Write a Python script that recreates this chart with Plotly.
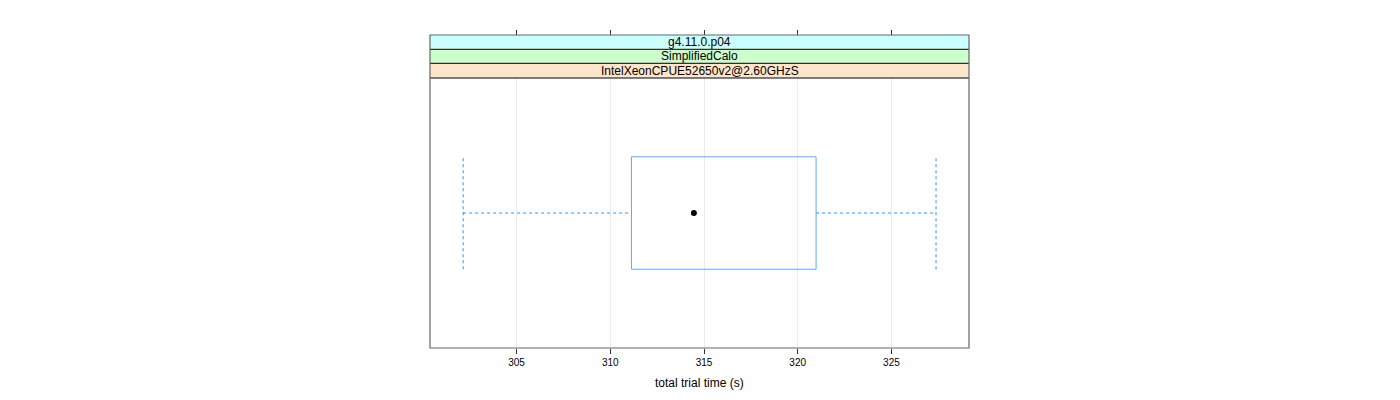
import plotly.graph_objects as go

# ---- data ----
strip_labels = ["IntelXeonCPUE52650v2@2.60GHzS", "SimplifiedCalo", "g4.11.0.p04"]  # bottom -> top
category_pos = [1]
lower_whisker = [302.15]
q1 = [311.13]
median = [314.46]
q3 = [320.98]
upper_whisker = [327.38]
x_ticks = [305, 310, 315, 320, 325]
x_range = [300.38, 329.14]
x_title = "total trial time (s)"

# ---- style ----
BOX_COL = "#0080ff"
H = 0.25  # half box height (box.ratio = 1)
FONT = "Liberation Sans, Arial, sans-serif"
strip_cols = ["#ffe5cc", "#ccffcc", "#ccffff"]

W, Hh = 1400, 400
mt, mb, ml, mr = 35, 52, 430, 431
plot_h = Hh - mt - mb
panel_top_frac = (348 - 78) / plot_h
strip_bounds = [panel_top_frac, (348 - 63.3) / plot_h, (348 - 49.3) / plot_h, 1.0]

fig = go.Figure()

for i, y in enumerate(category_pos):
    lo, a, m, b, hi = lower_whisker[i], q1[i], median[i], q3[i], upper_whisker[i]
    # box rectangle
    fig.add_trace(go.Scatter(x=[a, b, b, a, a], y=[y - H, y - H, y + H, y + H, y - H],
                             mode="lines", line=dict(color=BOX_COL, width=1),
                             opacity=0.65, hoverinfo="skip", showlegend=False))
    # whiskers (umbrella)
    for xs, ys in [([lo, a], [y, y]), ([b, hi], [y, y]),
                   ([lo, lo], [y - H, y + H]), ([hi, hi], [y - H, y + H])]:
        fig.add_trace(go.Scatter(x=xs, y=ys, mode="lines",
                                 line=dict(color=BOX_COL, width=1, dash="3px,3px"),
                                 opacity=0.85, hoverinfo="skip", showlegend=False))
    # median dot
    fig.add_trace(go.Scatter(x=[m], y=[y], mode="markers",
                             marker=dict(color="black", size=6),
                             hoverinfo="skip", showlegend=False))

# invisible trace for top axis
fig.add_trace(go.Scatter(x=x_range, y=[1, 1], xaxis="x2", mode="markers",
                         marker=dict(opacity=0), hoverinfo="skip", showlegend=False))

shapes = []
for k in range(3):
    shapes.append(dict(type="rect", xref="paper", yref="paper", x0=0, x1=1,
                       y0=strip_bounds[k], y1=strip_bounds[k + 1],
                       fillcolor=strip_cols[k], line=dict(width=0), layer="below"))
for yb in strip_bounds[:3]:
    shapes.append(dict(type="line", xref="paper", yref="paper", x0=0, x1=1,
                       y0=yb, y1=yb, line=dict(color="black", width=1)))
shapes.append(dict(type="rect", xref="paper", yref="paper", x0=0, x1=1, y0=0, y1=1,
                   line=dict(color="#666666", width=1.2), fillcolor="rgba(0,0,0,0)"))

annotations = []
for k, lab in enumerate(strip_labels):
    annotations.append(dict(xref="paper", yref="paper", x=0.5,
                            y=(strip_bounds[k] + strip_bounds[k + 1]) / 2,
                            text=lab, showarrow=False, yanchor="middle",
                            font=dict(family=FONT, size=12, color="black")))
annotations.append(dict(xref="paper", yref="paper", x=0.5, y=-(383 - 348) / plot_h,
                        text=x_title, showarrow=False, yanchor="middle",
                        font=dict(family=FONT, size=12, color="black")))

fig.update_layout(
    width=W, height=Hh,
    margin=dict(l=ml, r=mr, t=mt, b=mb),
    paper_bgcolor="white", plot_bgcolor="white",
    font=dict(family=FONT, size=10, color="black"),
    xaxis=dict(range=x_range, tickvals=x_ticks, ticks="outside", ticklen=5,
               tickcolor="#333333", showgrid=True, gridcolor="#ebebeb", gridwidth=1,
               zeroline=False, showline=False, tickfont=dict(size=10),
               anchor="y"),
    xaxis2=dict(range=x_range, tickvals=x_ticks, ticks="outside", ticklen=5,
                tickcolor="#333333", showgrid=False, zeroline=False, showline=False,
                showticklabels=False, overlaying="x", side="top",
                anchor="free", position=1.0),
    yaxis=dict(range=[0.4, 1.6], domain=[0, panel_top_frac], showticklabels=False,
               ticks="", showgrid=False, zeroline=False, showline=False),
    shapes=shapes,
    annotations=annotations,
)

fig.write_html("out.html")
